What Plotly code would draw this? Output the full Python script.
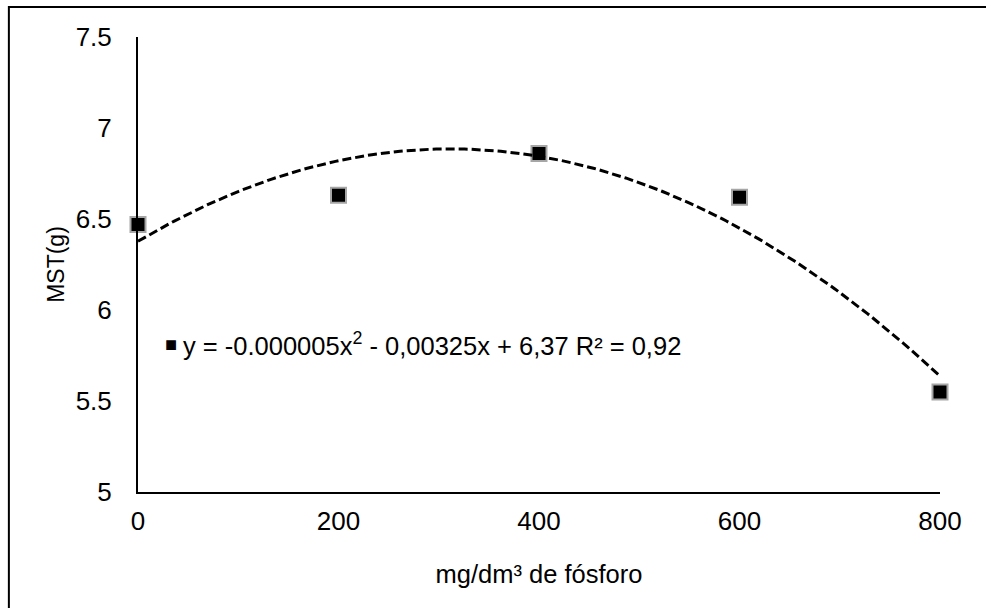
import numpy as np
import plotly.graph_objects as go

# Data
fosforo = [0, 200, 400, 600, 800]
mst = [6.47, 6.63, 6.86, 6.62, 5.55]
y_ticks = [5, 5.5, 6, 6.5, 7, 7.5]
x_ticks = [0, 200, 400, 600, 800]
equation = "y = -0.000005x<sup>2</sup> - 0,00325x + 6,37 R² = 0,92"

# Polynomial (order 2) trendline fitted to the data
coef = np.polyfit(fosforo, mst, 2)
x_fit = np.linspace(min(fosforo), max(fosforo), 200)
y_fit = np.polyval(coef, x_fit)

FONT = "Liberation Sans, Arial, sans-serif"

fig = go.Figure()
fig.add_trace(go.Scatter(
    x=fosforo, y=mst, mode="markers",
    marker=dict(symbol="square", size=15, color="black",
                line=dict(color="#a6a6a6", width=2)),
    showlegend=False, cliponaxis=False,
))
fig.add_trace(go.Scatter(
    x=x_fit, y=y_fit, mode="lines",
    line=dict(color="black", width=3, dash="9px,4px"),
    showlegend=False, cliponaxis=False,
))

fig.update_layout(
    width=986, height=608,
    margin=dict(l=138, r=46, t=37, b=116),
    paper_bgcolor="white", plot_bgcolor="white",
    font=dict(family=FONT, size=25, color="black"),
    xaxis=dict(
        range=[0, 800], tickvals=x_ticks, showgrid=False, zeroline=False,
        showline=True, linecolor="black", linewidth=2,
        ticks="", ticklabelstandoff=5, automargin=False,
        tickfont=dict(size=26, color="black"),
        title=dict(text="mg/dm³ de fósforo",
                   font=dict(size=25.5, color="black"), standoff=30),
    ),
    yaxis=dict(
        range=[5, 7.5], tickvals=y_ticks, showgrid=False, zeroline=False,
        showline=True, linecolor="black", linewidth=2,
        ticks="", ticklabelstandoff=19, automargin=False,
        tickfont=dict(size=26, color="black"),
        title=dict(text="MST(g)", font=dict(size=23, color="black"),
                   standoff=5),
    ),
    shapes=[dict(
        type="rect", xref="paper", yref="paper",
        x0=-0.161, x1=1.2, y0=-0.4, y1=1.066,
        line=dict(color="black", width=2), fillcolor="rgba(0,0,0,0)",
        layer="above",
    )],
    annotations=[
        dict(text="■", xref="paper", yref="paper", x=0.041, y=0.325,
             xanchor="center", yanchor="middle", showarrow=False,
             font=dict(size=20, color="black")),
        dict(text=equation, xref="paper", yref="paper", x=0.053, y=0.325,
             xanchor="left", yanchor="middle", showarrow=False,
             font=dict(size=25.5, color="black")),
    ],
)

fig.write_html("out.html",
               config={"displayModeBar": False},
               post_script="document.body.style.margin='0px';")
